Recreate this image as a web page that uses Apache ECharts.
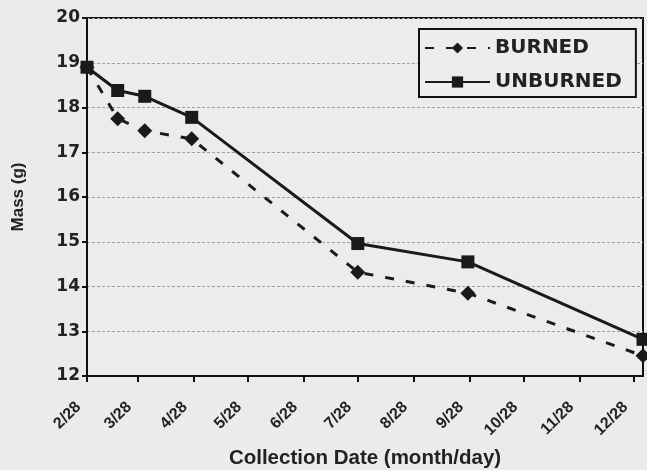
<!DOCTYPE html>
<html><head><meta charset="utf-8">
<script src="https://cdn.jsdelivr.net/npm/echarts@6/dist/echarts.min.js"></script>
<style>html,body{margin:0;padding:0;background:#ebebeb;}#c{width:647px;height:470px;}</style>
</head><body><div id="c"></div>
<script>
// x values: days after 2/28
const tickDays = [0, 28, 59, 89, 120, 150, 181, 212, 242, 273, 303];
const tickLabels = ['2/28','3/28','4/28','5/28','6/28','7/28','8/28','9/28','10/28','11/28','12/28'];
const sampleDays = [0, 17, 32, 58, 150, 211, 308];
const burned = [18.9, 17.75, 17.48, 17.3, 14.32, 13.85, 12.45];
const unburned = [18.9, 18.38, 18.25, 17.78, 14.96, 14.55, 12.82];

const pair = (xs, ys) => xs.map((x, i) => [x, ys[i]]);
const font = 'Liberation Sans, Arial, sans-serif';
const wide = 'DejaVu Sans, Liberation Sans, sans-serif';
const chart = echarts.init(document.getElementById('c'));
chart.setOption({
  backgroundColor: '#ebebeb',
  animation: false,
  grid: { left: 87, right: 4, top: 18, bottom: 94, containLabel: false, outerBoundsMode: 'none',
          show: true, borderColor: '#111', borderWidth: 2, backgroundColor: '#ececec' },
  legend: {
    left: 419, top: 29, orient: 'vertical', padding: [9, 14, 5, 5], itemGap: 14,
    borderColor: '#111', borderWidth: 2, backgroundColor: '#ededed',
    itemWidth: 65, itemHeight: 14,
    textStyle: { fontFamily: wide, fontWeight: 'bold', fontSize: 20, color: '#222' },
    data: ['BURNED', 'UNBURNED']
  },
  xAxis: {
    type: 'value', min: 0, max: 308,
    name: 'Collection Date (month/day)', nameLocation: 'middle', nameGap: 72,
    nameTextStyle: { fontFamily: font, fontWeight: 'bold', fontSize: 20.5, color: '#222' },
    axisLine: { lineStyle: { color: '#111', width: 2 } },
    axisTick: { show: true, customValues: tickDays, length: 6, lineStyle: { color: '#111', width: 2 } },
    axisLabel: {
      customValues: tickDays, rotate: 45, margin: 20, padding: [0, 12, 0, 0],
      formatter: v => tickLabels[tickDays.indexOf(v)] || '',
      fontFamily: font, fontWeight: 'bold', fontSize: 16, color: '#222'
    },
    splitLine: { show: false }
  },
  yAxis: {
    type: 'value', min: 12, max: 20, interval: 1,
    name: 'Mass (g)', nameLocation: 'middle', nameGap: 60,
    nameTextStyle: { fontFamily: font, fontWeight: 'bold', fontSize: 17, color: '#222' },
    axisLine: { show: true, lineStyle: { color: '#111', width: 2 } },
    axisTick: { show: true, length: 5, lineStyle: { color: '#111', width: 2 } },
    axisLabel: { fontFamily: wide, fontWeight: 'bold', fontSize: 17, color: '#222', margin: 7 },
    splitLine: { show: true, lineStyle: { color: '#a0a0a0', width: 1, type: [3, 2] } }
  },
  series: [
    {
      name: 'BURNED', type: 'line', data: pair(sampleDays, burned),
      symbol: 'diamond', symbolSize: 15, z: 3,
      itemStyle: { color: '#1a1a1a' },
      lineStyle: { color: '#1a1a1a', width: 3, type: [9, 12] }
    },
    {
      name: 'UNBURNED', type: 'line', data: pair(sampleDays, unburned),
      symbol: 'rect', symbolSize: 13, z: 4,
      itemStyle: { color: '#1a1a1a' },
      lineStyle: { color: '#1a1a1a', width: 3, type: 'solid' }
    }
  ]
});
</script></body></html>
